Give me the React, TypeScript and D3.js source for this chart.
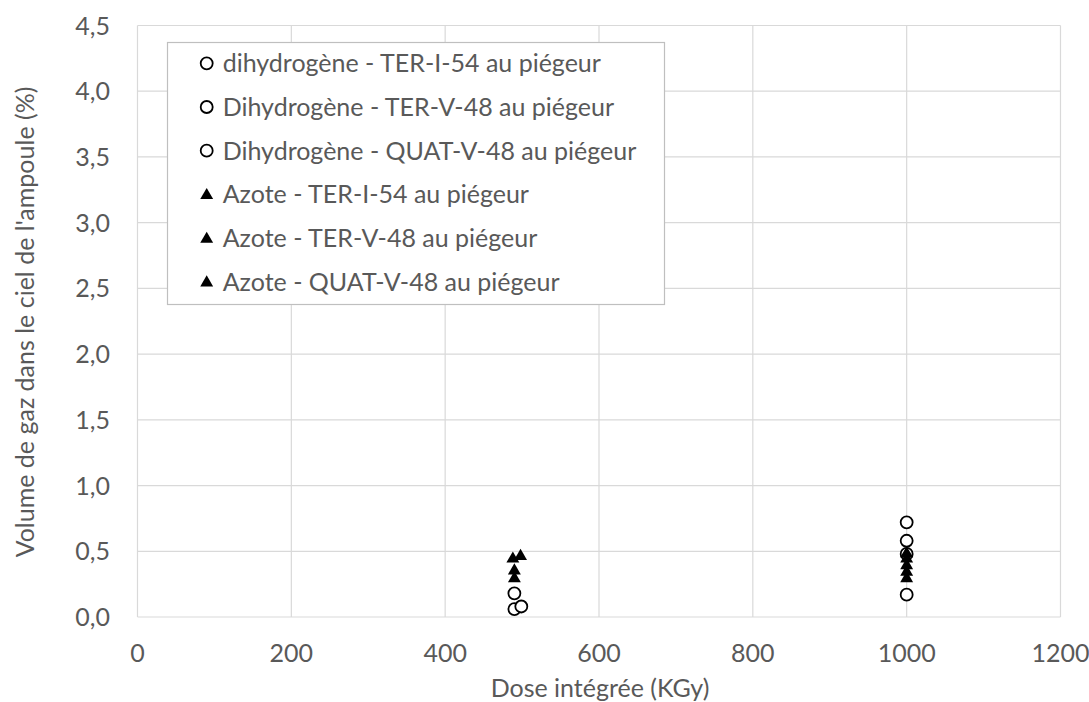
import React from "react";
import * as d3 from "d3";

const xTicks = [0, 200, 400, 600, 800, 1000, 1200];
const yTicks = [0, 0.5, 1, 1.5, 2, 2.5, 3, 3.5, 4, 4.5];

const h2TerI54: [number, number][] = [[490, 0.18], [1000, 0.72]];
const h2TerV48: [number, number][] = [[490, 0.06], [1000, 0.48]];
const h2QuatV48: [number, number][] = [[499, 0.08], [1000, 0.58], [1000, 0.17]];
const n2TerI54: [number, number][] = [[488, 0.45], [1000, 0.49]];
const n2TerV48: [number, number][] = [[490, 0.36], [1000, 0.45], [1000, 0.40]];
const n2QuatV48: [number, number][] = [[498, 0.47], [490, 0.30], [1000, 0.35], [1000, 0.30]];

const seriesNames = [
  "dihydrogène - TER-I-54 au piégeur",
  "Dihydrogène - TER-V-48 au piégeur",
  "Dihydrogène - QUAT-V-48 au piégeur",
  "Azote - TER-I-54 au piégeur",
  "Azote - TER-V-48 au piégeur",
  "Azote - QUAT-V-48 au piégeur",
];
const seriesData = [h2TerI54, h2TerV48, h2QuatV48, n2TerI54, n2TerV48, n2QuatV48];
const seriesShape = ["circle", "circle", "circle", "triangle", "triangle", "triangle"];

const W = 1089;
const H = 702;
const left = 137.5, right = 1060.5, top = 25.5, bottom = 617;
const FONT = "Lato, 'Open Sans', sans-serif";
const TXT = "#595959";
const GRID = "#d9d9d9";
const FS = 25;

const x = d3.scaleLinear().domain([0, 1200]).range([left, right]);
const y = d3.scaleLinear().domain([0, 4.5]).range([bottom, top]);
const fmt = (v: number) => d3.format(".1f")(v).replace(".", ",");

const tri = d3.symbol().type(d3.symbolTriangle).size(72)();

function Marker({ shape, cx, cy }: { shape: string; cx: number; cy: number }) {
  if (shape === "circle")
    return <circle cx={cx} cy={cy} r={6} fill="#fff" stroke="#000" strokeWidth={1.8} />;
  return <path d={tri as string} transform={`translate(${cx},${cy + 1})`} fill="#000" />;
}

export default function App() {
  const order = [0, 1, 2, 3, 4, 5];
  return (
    <svg width={W} height={H} style={{ position: "absolute", left: 0, top: 0, background: "#fff" }}>
      <rect width={W} height={H} fill="#fff" />
      {yTicks.map((t) => (
        <line key={"gy" + t} x1={left} x2={right} y1={y(t)} y2={y(t)} stroke={GRID} strokeWidth={1.2} />
      ))}
      {xTicks.map((t) => (
        <line key={"gx" + t} x1={x(t)} x2={x(t)} y1={top} y2={bottom} stroke={GRID} strokeWidth={1.2} />
      ))}
      {yTicks.map((t) => (
        <text key={"ty" + t} x={110} y={y(t)} dy="0.36em" textAnchor="end" fontFamily={FONT} fontSize={FS} fill={TXT}>
          {fmt(t)}
        </text>
      ))}
      {xTicks.map((t) => (
        <text key={"tx" + t} x={x(t)} y={652.5} dy="0.36em" textAnchor="middle" fontFamily={FONT} fontSize={FS} fill={TXT}>
          {t}
        </text>
      ))}
      <text x={600} y={697} textAnchor="middle" fontFamily={FONT} fontSize={FS} fill={TXT}>
        Dose intégrée (KGy)
      </text>
      <text
        transform={`translate(25,${322}) rotate(-90)`}
        textAnchor="middle"
        dy="0.36em"
        fontFamily={FONT}
        fontSize={FS}
        fill={TXT}
      >
        Volume de gaz dans le ciel de l'ampoule (%)
      </text>
      {order.map((i) =>
        seriesData[i].map((d, j) => (
          <Marker key={`m${i}-${j}`} shape={seriesShape[i]} cx={x(d[0])} cy={y(d[1])} />
        ))
      )}
      <rect x={167.5} y={42.5} width={497} height={262} fill="#fff" stroke="#bfbfbf" strokeWidth={1.2} />
      {seriesNames.map((name, i) => {
        const cy = 63.3 + i * 43.7;
        return (
          <g key={"lg" + i}>
            <Marker shape={seriesShape[i]} cx={206.7} cy={cy} />
            <text x={222.7} y={cy} dy="0.36em" fontFamily={FONT} fontSize={FS} fill={TXT}>
              {name}
            </text>
          </g>
        );
      })}
    </svg>
  );
}
